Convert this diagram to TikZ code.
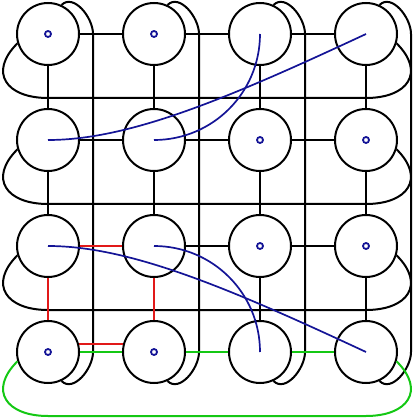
\documentclass[tikz,border=0pt]{standalone}
\usepackage{tikz}
\usetikzlibrary{positioning}
\usepackage{xcolor}
\definecolor{wirered}{RGB}{225,25,25}
\definecolor{wiregreen}{RGB}{20,200,20}
\definecolor{pathblue}{RGB}{20,20,150}

\begin{document}
\begin{tikzpicture}[x=1pt,y=1pt,line width=2pt,
  site/.style={draw,circle,minimum size=62pt,inner sep=0pt},
  sitemark/.style={draw=pathblue,line width=1.8pt},
  flow/.style={draw=pathblue,line width=1.7pt}]
\useasboundingbox (-48,-66) rectangle (368,352);
\foreach \i in {0,...,3}{\foreach \j in {0,...,3}{\node[site] (v\i\j) at (\i*106,\j*106) {};}}
% wrap-around edges
\foreach \i in {0,...,3}
  \draw (v\i3.65) to[out=45,in=90] (\i*106+45,318) -- (\i*106+45,0) to[out=-90,in=-45] (v\i0.-65);
\foreach \j in {1,2,3}
  \draw (v0\j.197) to[out=225,in=180,looseness=1.7] (0,\j*106-64) -- (318,\j*106-64) to[out=0,in=-45,looseness=1.7] (v3\j.-17);
% grid edges
\foreach \i/\k in {0/1,1/2,2/3}{
  \draw (v\i3) -- (v\k3);
  \draw (v\i2) -- (v\k2);}
\draw (v11) -- (v21);
\draw (v21) -- (v31);
\foreach \i in {0,1}{
  \draw (v\i3) -- (v\i2);
  \draw (v\i2) -- (v\i1);}
\foreach \i in {2,3}{
  \draw (v\i3) -- (v\i2);
  \draw (v\i2) -- (v\i1);
  \draw (v\i1) -- (v\i0);}
% plaquette
\draw[wirered] (v01) -- (v11);
\draw[wirered] (v01) -- (v00);
\draw[wirered] (v11) -- (v10);
\draw[wirered] ([shift={(31,8)}]v00.center) -- ([shift={(-31,8)}]v10.center);
% green ring
\draw[wiregreen] (v00.197) to[out=225,in=180,looseness=1.7] (0,-64) -- (318,-64) to[out=0,in=-45,looseness=1.7] (v30.-17);
\draw[wiregreen] (v00) -- (v10);
\draw[wiregreen] (v10) -- (v20);
\draw[wiregreen] (v20) -- (v30);
% blue strings
\draw[flow] (v02.center) to[out=0,in=205,out distance=82pt,in distance=150pt] (v33.center);
\draw[flow] (v12.center) to[out=0,in=-90] (v23.center);
\draw[flow] (v01.center) to[out=0,in=155,out distance=82pt,in distance=150pt] (v30.center);
\draw[flow] (v11.center) to[out=0,in=90] (v20.center);
\foreach \n in {v03,v13,v22,v32,v21,v31,v00,v10}
  \draw[sitemark] (\n) circle[radius=3pt];
\end{tikzpicture}
\end{document}
